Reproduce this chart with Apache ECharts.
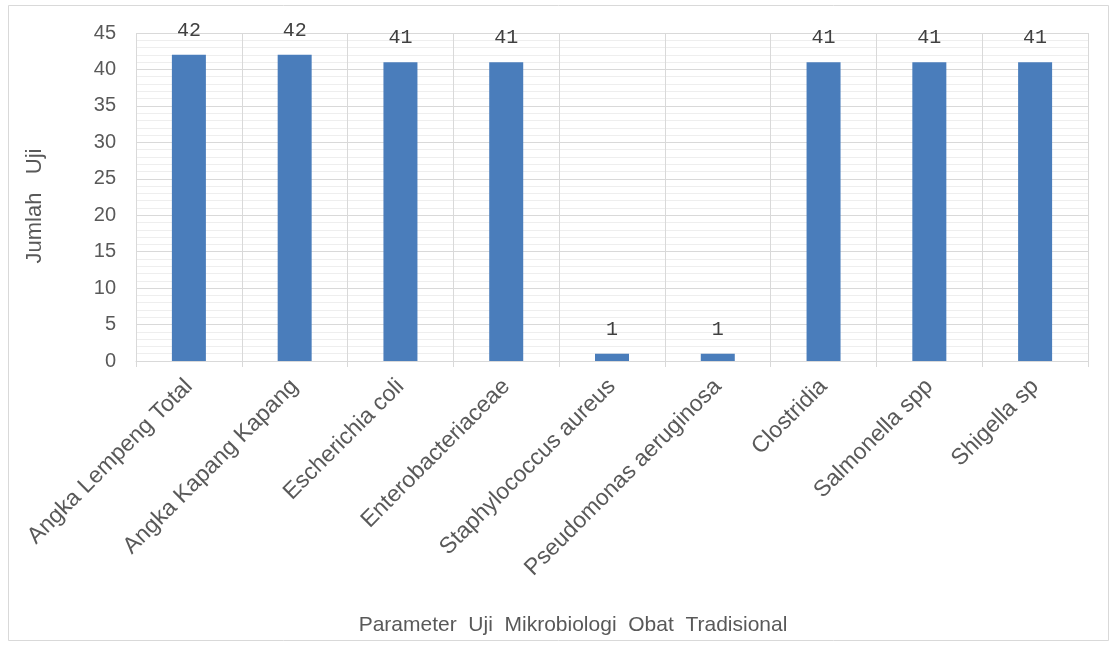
<!DOCTYPE html>
<html>
<head>
<meta charset="utf-8">
<script src="https://cdn.jsdelivr.net/npm/echarts@6/dist/echarts.min.js"></script>
<style>
  html, body { margin: 0; padding: 0; background: #fff; }
  #main { width: 1114px; height: 648px; }
</style>
</head>
<body>
<div id="main"></div>
<script>
// data
var categories = ['Angka Lempeng Total', 'Angka Kapang Kapang', 'Escherichia coli', 'Enterobacteriaceae',
  'Staphylococcus aureus', 'Pseudomonas aeruginosa', 'Clostridia', 'Salmonella spp', 'Shigella sp'];
var jumlahUji = [42, 42, 41, 41, 1, 1, 41, 41, 41];
var yTicks = [0, 5, 10, 15, 20, 25, 30, 35, 40, 45];

var chart = echarts.init(document.getElementById('main'));
chart.setOption({
  animation: false,
  backgroundColor: '#fff',
  graphic: [{
    type: 'rect',
    shape: { x: 8.5, y: 5.5, width: 1100, height: 635 },
    style: { fill: 'none', stroke: '#d9d9d9', lineWidth: 1 }
  }],
  grid: { left: 136, right: 26, top: 33, bottom: 287 },
  xAxis: {
    type: 'category',
    data: categories,
    name: 'Parameter  Uji  Mikrobiologi  Obat  Tradisional',
    nameLocation: 'middle',
    nameGap: 254,
    nameTextStyle: { fontFamily: 'Liberation Sans', fontSize: 21, color: '#595959', padding: [0, 78, 0, 0] },
    axisLine: { lineStyle: { color: '#d9d9d9' } },
    axisTick: { show: true, length: 6, lineStyle: { color: '#d9d9d9' } },
    axisLabel: { rotate: 45, interval: 0, margin: 22, fontFamily: 'Liberation Sans', fontSize: 23, color: '#595959' },
    splitLine: { show: true, interval: 0, lineStyle: { color: '#d9d9d9' } }
  },
  yAxis: {
    type: 'value',
    min: yTicks[0],
    max: yTicks[yTicks.length - 1],
    interval: 5,
    name: 'Jumlah   Uji',
    nameLocation: 'middle',
    nameGap: 90,
    nameTextStyle: { fontFamily: 'Liberation Sans', fontSize: 22, color: '#595959', padding: [0, 18, 0, 0] },
    axisLine: { show: false },
    axisTick: { show: false },
    axisLabel: { margin: 20, fontFamily: 'Liberation Sans', fontSize: 20, color: '#595959' },
    splitLine: { lineStyle: { color: '#d9d9d9' } },
    minorTick: { show: false, splitNumber: 5 },
    minorSplitLine: { show: true, lineStyle: { color: '#eeeeee' } }
  },
  series: [{
    type: 'bar',
    data: jumlahUji,
    barWidth: 34,
    itemStyle: { color: '#4a7dbb' },
    label: {
      show: true,
      position: 'top',
      distance: 14,
      fontFamily: 'Liberation Mono',
      fontSize: 20,
      color: '#404040'
    }
  }]
});
</script>
</body>
</html>
